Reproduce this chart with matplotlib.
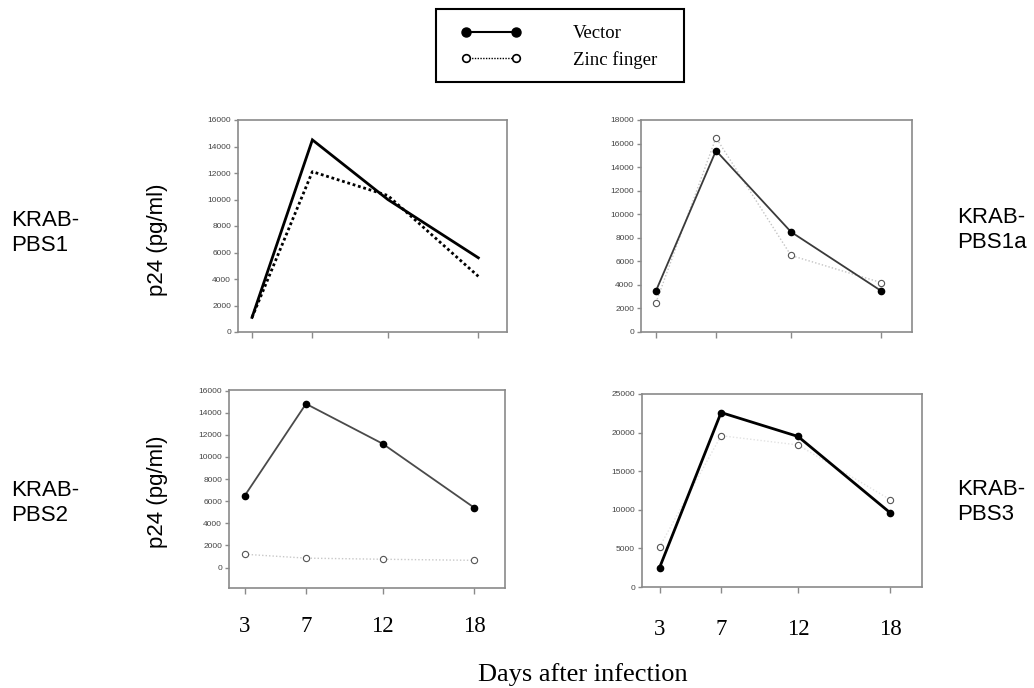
import matplotlib
matplotlib.use("Agg")
import matplotlib.pyplot as plt
from matplotlib.lines import Line2D
from matplotlib.patches import Rectangle
from matplotlib.legend_handler import HandlerLine2D

W, H = 1034, 688

days = [3, 7, 12, 18]
day_labels = ["3", "7", "12", "18"]

pbs1_vector = [1100, 14500, 10000, 5600]
pbs1_zinc = [1100, 12100, 10300, 4200]
pbs1a_vector = [3500, 15400, 8500, 3500]
pbs1a_zinc = [2500, 16500, 6500, 4200]
pbs2_vector = [6500, 14800, 11200, 5400]
pbs2_zinc = [1200, 850, 750, 650]
pbs3_vector = [2500, 22600, 19500, 9600]
pbs3_zinc = [5200, 19600, 18400, 11300]

yticks1 = list(range(0, 16001, 2000))
yticks1a = list(range(0, 18001, 2000))
yticks2 = list(range(0, 16001, 2000))
yticks3 = list(range(0, 25001, 5000))

SANS = "Liberation Sans"
SERIF = "Liberation Serif"

fig = plt.figure(figsize=(W / 100, H / 100), dpi=100)


def rect(l, r, t, b):
    return [l / W, (H - b) / H, (r - l) / W, (b - t) / H]


def style(ax, xlim, ylim, yticks, show_x, xpad=14):
    ax.set_xlim(*xlim)
    ax.set_ylim(*ylim)
    ax.set_xticks(days)
    ax.set_yticks(yticks)
    ax.set_yticklabels([str(v) for v in yticks], fontsize=6, color="#444444",
                       family=SANS)
    for s in ax.spines.values():
        s.set_color("#8a8a8a")
        s.set_linewidth(1.2)
    ax.tick_params(axis="both", direction="out", color="#8a8a8a", width=1.0)
    ax.tick_params(axis="y", length=3, pad=2)
    if show_x:
        ax.set_xticklabels(day_labels, fontsize=16.5, family=SERIF)
        ax.tick_params(axis="x", length=4, pad=xpad)
    else:
        ax.set_xticklabels([])
        ax.tick_params(axis="x", length=4)


# Panel 1: KRAB-PBS1
ax1 = fig.add_axes(rect(238, 507, 120, 332))
ax1.plot(days, pbs1_vector, color="black", lw=2.0, solid_joinstyle="miter")
ax1.plot(days, pbs1_zinc, color="black", lw=2.0, linestyle=(0, (1, 1)))
style(ax1, (2.07, 19.9), (0, 16000), yticks1, False)

# Panel 2: KRAB-PBS1a
ax2 = fig.add_axes(rect(641, 912, 120, 332))
ax2.plot(days, pbs1a_zinc, color="#c4c4c4", lw=1.0, linestyle=(0, (1, 1.5)),
         marker="o", markersize=4.5, markerfacecolor="white",
         markeredgecolor="#555555", markeredgewidth=0.8)
ax2.plot(days, pbs1a_vector, color="#3a3a3a", lw=1.3, marker="o",
         markersize=4.5, markerfacecolor="black", markeredgecolor="black")
style(ax2, (2.0, 20.07), (0, 18000), yticks1a, False)

# Panel 3: KRAB-PBS2
ax3 = fig.add_axes(rect(229, 505, 390, 588))
ax3.plot(days, pbs2_zinc, color="#c8c8c8", lw=1.0, linestyle=(0, (1, 1.5)),
         marker="o", markersize=4.5, markerfacecolor="white",
         markeredgecolor="#555555", markeredgewidth=0.8)
ax3.plot(days, pbs2_vector, color="#4a4a4a", lw=1.3, marker="o",
         markersize=4.5, markerfacecolor="black", markeredgecolor="black")
style(ax3, (1.97, 20.0), (-1850, 16050), yticks2, True, xpad=16)

# Panel 4: KRAB-PBS3
ax4 = fig.add_axes(rect(642, 922, 394, 587))
ax4.plot(days, pbs3_zinc, color="#e2e2e2", lw=1.0, linestyle=(0, (1, 1.5)),
         marker="o", markersize=4.5, markerfacecolor="white",
         markeredgecolor="#555555", markeredgewidth=0.8)
ax4.plot(days, pbs3_vector, color="black", lw=2.0, marker="o",
         markersize=4.5, markerfacecolor="black", markeredgecolor="black")
style(ax4, (1.86, 20.06), (0, 25000), yticks3, True, xpad=19)

# Side labels
def ftext(x, y, s, **kw):
    fig.text(x / W, 1 - y / H, s, **kw)

ftext(11, 233, "KRAB-\nPBS1", fontsize=16, family=SANS, ha="left", va="center",
      linespacing=1.3)
ftext(11, 503, "KRAB-\nPBS2", fontsize=16, family=SANS, ha="left", va="center",
      linespacing=1.3)
ftext(957, 230, "KRAB-\nPBS1a", fontsize=16, family=SANS, ha="left", va="center",
      linespacing=1.3)
ftext(957, 502, "KRAB-\nPBS3", fontsize=16, family=SANS, ha="left", va="center",
      linespacing=1.3)
ftext(157, 240, "p24 (pg/ml)", fontsize=16, family=SANS, ha="center",
      va="center", rotation=90)
ftext(157, 492, "p24 (pg/ml)", fontsize=16, family=SANS, ha="center",
      va="center", rotation=90)
ftext(583, 675, "Days after infection", fontsize=19, family=SERIF,
      ha="center", va="center")

# Legend
fig.add_artist(Rectangle((436 / W, 1 - 82 / H), (684 - 436) / W, (82 - 9) / H,
                         transform=fig.transFigure, facecolor="none",
                         edgecolor="black", lw=1.5))
h_vec = Line2D([], [], color="black", lw=1.5, marker="o", markersize=6.5,
               markerfacecolor="black")
h_zinc = Line2D([], [], color="black", lw=1.0, linestyle=(0, (1, 1)),
                marker="o", markersize=5.5, markerfacecolor="white",
                markeredgecolor="black", markeredgewidth=1.2)
fs = 13.5
fs_px = fs * 100 / 72
fig.legend([h_vec, h_zinc], ["Vector", "Zinc finger"], loc="upper left",
           bbox_to_anchor=(466 / W, 1 - 25 / H), borderaxespad=0, borderpad=0,
           frameon=False, numpoints=2, handlelength=50 / fs_px,
           handletextpad=57 / fs_px, labelspacing=0.46,
           prop={"family": SERIF, "size": fs},
           handler_map={Line2D: HandlerLine2D(marker_pad=0)})

fig.savefig("out.png", dpi=100)
